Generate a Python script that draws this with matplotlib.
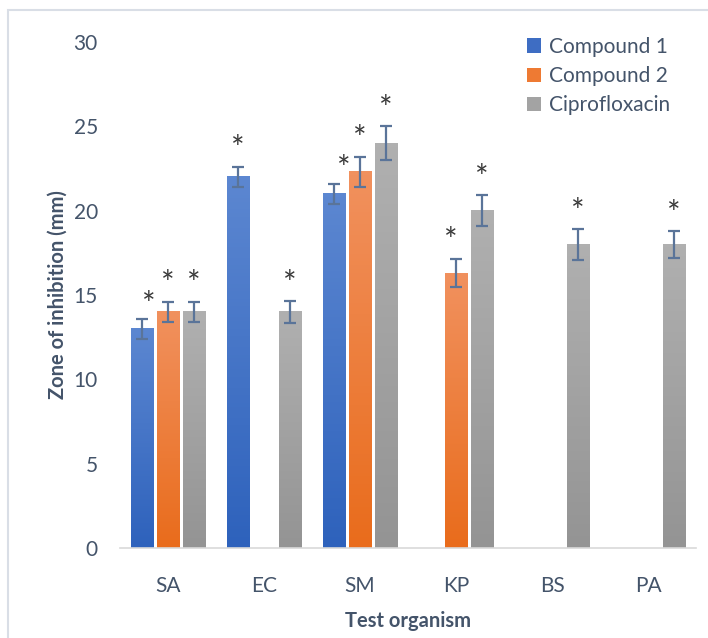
import numpy as np
import matplotlib
matplotlib.use('Agg')
import matplotlib.pyplot as plt
from matplotlib.colors import LinearSegmentedColormap
from matplotlib.patches import Rectangle, Patch

# data
organisms = ['SA', 'EC', 'SM', 'KP', 'BS', 'PA']
series = ['Compound 1', 'Compound 2', 'Ciprofloxacin']
compound1 = [13, 22, 21, 0, 0, 0]
compound2 = [14, 0, 22.3, 16.3, 0, 0]
cipro = [14, 14, 24, 20, 18, 18]
err1 = [0.6, 0.6, 0.6, 0, 0, 0]
err2 = [0.6, 0, 0.9, 0.85, 0, 0]
err3 = [0.6, 0.65, 1.0, 0.9, 0.9, 0.8]

values = [compound1, compound2, cipro]
errors = [err1, err2, err3]

# (bottom colour, top colour) for the gradient fill
grads = [('#2E62BC', '#5C87D1'), ('#E96C1C', '#F1915E'), ('#949494', '#B0B0B0')]
legend_cols = ['#3E6DC3', '#EE7A33', '#A3A3A3']
text_col = '#44546A'
err_col = '#5A7499'

# asterisk label shifts (points) where they sit off-centre in the original
nudge = {(0, 0): (5, -3), (0, 2): (7, -2), (1, 3): (-4, 0)}

plt.rcParams['font.family'] = ['Lato', 'DejaVu Sans']

fig = plt.figure(figsize=(7.08, 6.38), dpi=100)
W, H = 708, 638
ax = fig.add_axes([120 / W, (H - 548) / H, (696 - 120) / W, (548 - 42) / H])

x = np.arange(len(organisms))
offsets = [-0.27, 0, 0.27]
width = 0.23

for s in range(3):
    cmap = LinearSegmentedColormap.from_list('g%d' % s, [grads[s][0], grads[s][1]])
    grad = np.linspace(0, 1, 100).reshape(-1, 1)
    for i in range(len(organisms)):
        v = values[s][i]
        if v <= 0:
            continue
        xc = x[i] + offsets[s]
        ax.imshow(grad, cmap=cmap, origin='lower', aspect='auto',
                  extent=[xc - width / 2, xc + width / 2, 0, v], zorder=2)
        ax.errorbar(xc, v, yerr=errors[s][i], color=err_col, lw=1.6,
                    capsize=4, capthick=1.6, zorder=4)
        dx, dy = nudge.get((s, i), (0, 0))
        ax.annotate('*', (xc, v + errors[s][i]), xytext=(dx, 1 + dy),
                    textcoords='offset points', ha='center', va='bottom',
                    fontsize=23, color='#3A3A3A', zorder=5)

ax.set_xlim(-0.5, 5.5)
ax.set_ylim(0, 30)
ax.set_yticks([0, 5, 10, 15, 20, 25, 30])
ax.set_xticks(x)
ax.set_xticklabels(organisms)
for sp in ['top', 'right', 'left']:
    ax.spines[sp].set_visible(False)
ax.spines['bottom'].set_color('#D9D9D9')
ax.spines['bottom'].set_linewidth(1.2)
ax.tick_params(axis='both', length=0, labelsize=15, colors=text_col)
ax.tick_params(axis='y', pad=16)
ax.tick_params(axis='x', pad=20)

ax.set_ylabel('Zone of inhibition (mm)', fontsize=14.5, fontweight='bold',
              color=text_col, labelpad=4)
ax.set_xlabel('Test organism', fontsize=14.5, fontweight='bold',
              color=text_col, labelpad=11)

handles = [Patch(facecolor=c, edgecolor='none') for c in legend_cols]
ax.legend(handles, series, loc='upper left', bbox_to_anchor=(508 / W, 1 - 18 / H),
          bbox_transform=fig.transFigure, frameon=False, fontsize=15,
          handlelength=0.7, handleheight=0.7, handletextpad=0.35,
          labelspacing=0.45, labelcolor=text_col)

# light chart-area border (only top and left edges fall inside the image)
fig.patches.append(Rectangle((8 / W, -0.2), 1.2, 1.2 - 10 / H,
                             transform=fig.transFigure, fill=False,
                             edgecolor='#D9DEE6', lw=1.5, zorder=0))

fig.savefig('out.png', dpi=100)
